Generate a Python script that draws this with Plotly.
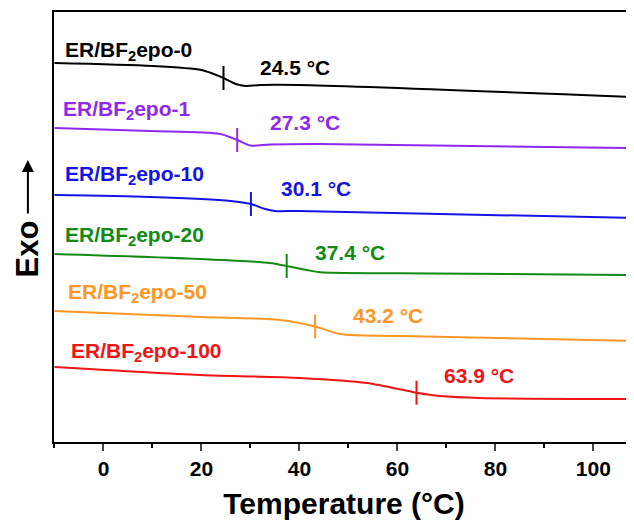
import numpy as np
import plotly.graph_objects as go

# ---------------- data ----------------
samples = ["ER/BF<sub>2</sub>epo-0", "ER/BF<sub>2</sub>epo-1", "ER/BF<sub>2</sub>epo-10",
           "ER/BF<sub>2</sub>epo-20", "ER/BF<sub>2</sub>epo-50", "ER/BF<sub>2</sub>epo-100"]
colors = ["#000000", "#9028F0", "#1414E6", "#138A13", "#FF9626", "#F01414"]
tg_values = [24.5, 27.3, 30.1, 37.4, 43.2, 63.9]

t0 = [-10, 10, 20, 22.5, 24.5, 27, 29, 32, 40, 108.5]
y0 = [379, 376, 372, 368, 364, 358, 356, 357, 357, 345]

t1 = [-10, 9.5, 23.8, 27.3, 30, 34, 44, 108.5]
y1 = [314, 311, 308, 302, 296.5, 297.5, 298, 294]

t10 = [-10, 9.5, 26, 30.1, 33, 35, 40, 108.5]
y10 = [247, 245, 241, 238, 233, 231, 231, 224]

t20 = [-10, 19.7, 34, 37.4, 41.5, 44.2, 60, 108.5]
y20 = [188, 183, 179, 176, 172, 169.7, 168.7, 167]

t50 = [-10, 20, 36, 43.2, 48.3, 60.5, 108.5]
y50 = [131, 125, 122, 115.5, 108, 106, 101]

t100 = [-10, 19.7, 40.1, 53.8, 63.9, 68.7, 76.8, 108.5]
y100 = [75, 67, 64, 59, 49.3, 46, 44, 43]

curves_t = [t0, t1, t10, t20, t50, t100]
curves_y = [y0, y1, y10, y20, y50, y100]

# label anchor positions (data coordinates)
name_x = [-8.3, -8.7, -8.3, -8.3, -7.6, -7.0]
name_y = [391, 332, 267, 206, 149, 90]
tg_label_x = [31.5, 33.6, 35.8, 42.8, 50.5, 69.1]
tg_label_y = [375, 320, 254, 190, 127, 67]

x_ticks = [0, 20, 40, 60, 80, 100]

FONT = "Liberation Sans, Arial, sans-serif"
fig = go.Figure()

for i in range(len(samples)):
    fig.add_trace(go.Scatter(x=curves_t[i], y=curves_y[i], mode="lines",
                             line=dict(color=colors[i], width=2, shape="spline", smoothing=0.8),
                             showlegend=False, hoverinfo="skip"))
    yc = float(np.interp(tg_values[i], curves_t[i], curves_y[i]))
    fig.add_trace(go.Scatter(x=[tg_values[i], tg_values[i]], y=[yc - 12, yc + 12], mode="lines",
                             line=dict(color=colors[i], width=2),
                             showlegend=False, hoverinfo="skip"))
    fig.add_annotation(x=name_x[i], y=name_y[i], text=samples[i], showarrow=False,
                       xanchor="left", yanchor="middle",
                       font=dict(family=FONT, size=21, color=colors[i], weight="bold"))
    fig.add_annotation(x=tg_label_x[i], y=tg_label_y[i], text=f"{tg_values[i]:.1f} °C",
                       showarrow=False, xanchor="left", yanchor="middle",
                       font=dict(family=FONT, size=21, color=colors[i], weight="bold"))

# Exo label with arrow
fig.add_annotation(xref="paper", yref="paper", x=-0.045, y=0.45, text="Exo",
                   textangle=-90, showarrow=False, xanchor="center", yanchor="middle",
                   font=dict(family=FONT, size=31, color="black", weight="bold"))
fig.add_annotation(xref="paper", yref="paper", x=-0.045, y=0.656, text="",
                   showarrow=True, ax=0, ay=55, arrowhead=2, arrowsize=1.2,
                   arrowwidth=2, arrowcolor="black")

# the page body has an 8px margin, so the figure is sized to fill the rest of the window
fig.update_layout(
    width=626, height=516,
    margin=dict(l=46, r=0, t=4, b=82),
    plot_bgcolor="white", paper_bgcolor="white",
    font=dict(family=FONT, color="black"),
    xaxis=dict(range=[-10.1, 108.3], tickvals=x_ticks, ticks="outside", ticklen=7, tickwidth=2,
               showline=True, linewidth=2, linecolor="black", mirror=True,
               showgrid=False, zeroline=False, automargin=False,
               minor=dict(dtick=10, tick0=0, ticks="outside", ticklen=4, tickwidth=2, tickcolor="black"),
               tickfont=dict(family=FONT, size=21, weight="bold", color="black"),
               title=dict(text="Temperature (°C)", standoff=14,
                          font=dict(family=FONT, size=30, weight="bold", color="black"))),
    yaxis=dict(range=[0, 430], showticklabels=False, ticks="", showgrid=False, zeroline=False,
               automargin=False, showline=True, linewidth=2, linecolor="black"),
)

fig.write_html("out.html")
